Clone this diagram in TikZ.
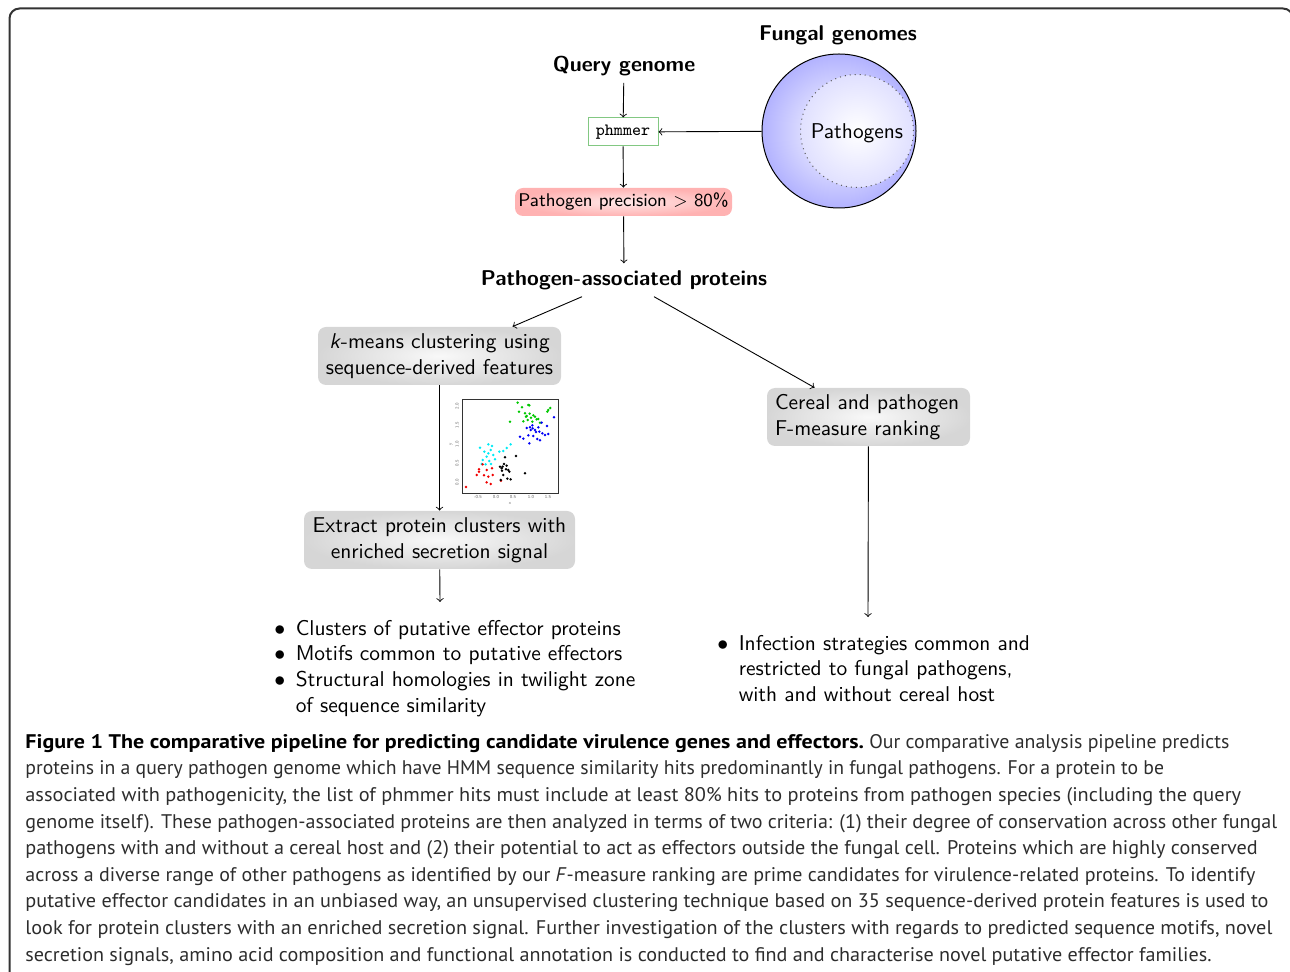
\documentclass[tikz,border=0pt]{standalone}
\usepackage{fontspec}
\newfontfamily\capfont{PT Sans}
\usetikzlibrary{calc}
\definecolor{phmgreen}{RGB}{130,200,130}
\definecolor{capgray}{RGB}{45,45,45}
\definecolor{scgreen}{RGB}{0,200,0}
\definecolor{scblue}{RGB}{0,0,245}
\definecolor{sccyan}{RGB}{0,235,245}
\definecolor{scred}{RGB}{240,0,0}
\begin{document}
\begin{tikzpicture}[x=0.5pt,y=-0.5pt,
  every node/.style={font=\sffamily\fontsize{10.7}{13}\selectfont},
  title/.style={font=\sffamily\bfseries\fontsize{10.7}{13}\selectfont},
  arr/.style={->,>=to,line width=0.45pt},
  graybox/.style={rounded corners=4pt,inner color=gray!5,outer color=gray!32,
    minimum height=29pt,inner sep=0pt,align=center},
  pinkbox/.style={rounded corners=4pt,inner color=red!9,outer color=red!30,
    minimum width=108.5pt,minimum height=14pt,inner sep=0pt,
    font=\sffamily\fontsize{9.2}{11}\selectfont},
  phmbox/.style={draw=phmgreen,line width=0.5pt,minimum width=35pt,minimum height=14pt,
    inner sep=0pt,font=\ttfamily\fontsize{8.6}{10}\selectfont},
  listnode/.style={anchor=base west,inner sep=0pt,font=\sffamily\fontsize{10.7}{12.85}\selectfont},
  capline/.style={anchor=base west,inner sep=0pt,text=capgray,font=\capfont\fontsize{9.85}{11}\selectfont},
  tick/.style={inner sep=0pt,text=black!60,font=\sffamily\fontsize{2.3}{2.5}\selectfont},
  pt/.style={circle,inner sep=0pt,minimum size=1.4pt}
]
\useasboundingbox (0,0) rectangle (1290,972);
% outer frame
\draw[line width=1pt,black!80,rounded corners=5pt] (9.5,8.5) rectangle (1293,1000);

% titles
\node[title] (fung) at (838,35) {Fungal genomes};
\node[title] (query) at (624,66) {Query genome};

% phmmer
\node[phmbox] (phm) at (623,132) {phmmer};

% fungal genomes circle
\node[circle,draw=black,line width=0.5pt,inner color=white,outer color=blue!30,
  minimum size=77pt,inner sep=0pt] (fg) at (839,131) {};
\node[circle,draw=black!65,dotted,line width=0.5pt,inner color=white,outer color=blue!12,
  minimum size=56.5pt,inner sep=0pt] (path) at (857,131) {};
\node (pathlab) at (857,133) {Pathogens};

% precision
\node[pinkbox] (prec) at (623.5,202) {Pathogen precision $>$ 80\%};

% pathogen-associated proteins
\node[title] (pap) at (624,280) {Pathogen-associated proteins};

% boxes
\node[graybox,minimum width=121.5pt] (km) at (439.5,356)
  {\textit{k}-means clustering using\\sequence-derived features};
\node[graybox,minimum width=135.5pt] (ext) at (439.5,540)
  {Extract protein clusters with\\enriched secretion signal};
\node[graybox,align=left,text width=93.5pt,inner xsep=4pt] (cer) at (868.5,417)
  {Cereal and pathogen\\F-measure ranking};

% scatter plot
\node[draw=black!80,line width=0.45pt,minimum width=48pt,minimum height=47pt,inner sep=0pt] (plot) at (510,446) {};
\begin{scope}[shift={(300,320)},scale=1/3]
  \foreach \p in {(653,248),(685,255),(688,256),(666,262),(657,275),(675,280),(689,281),(680,288),(700,286),(693,293),(710,298),(715,297),(683,300),(670,304),(697,305),(745,270),(751,264),(630,305),(720,308),(742,275),(678,290),(705,290)}
    \node[pt,fill=scgreen] at \p {};
  \foreach \p in {(762,292),(725,308),(741,318),(697,316),(690,322),(680,324),(705,330),(718,335),(727,340),(700,348),(685,346),(660,350),(670,356),(735,345),(745,342),(712,357),(720,361),(688,370),(698,325),(708,336),(692,330),(715,322)}
    \node[pt,fill=scblue] at \p {};
  \foreach \p in {(540,383),(565,373),(576,378),(553,395),(565,400),(580,405),(560,410),(548,420),(568,423),(585,418),(573,432),(557,433),(610,393),(620,384),(632,373),(598,395),(545,432),(572,390)}
    \node[pt,fill=sccyan] at \p {};
  \foreach \p in {(548,433),(537,448),(537,455),(560,450),(576,445),(530,465),(552,466),(565,470),(578,465),(560,487),(572,492),(498,501),(603,482)}
    \node[pt,fill=scred] at \p {};
  \foreach \p in {(615,412),(648,408),(600,440),(605,445),(612,432),(620,437),(606,452),(625,450),(610,465),(628,455),(602,480),(622,476),(632,478),(675,460),(618,448),(608,440)}
    \node[pt,fill=black] at \p {};
\end{scope}
% ticks
\foreach \xx/\lab in {478/-0.5,496/0.0,513/0.5,531/1.0,548/1.5}
  \node[tick] at (\xx,497) {\lab};
\foreach \yy/\lab in {406/2.0,425/1.5,444/1.0,463/0.5,482/0.0}
  \node[tick,rotate=90] at (457,\yy) {\lab};
\node[tick] (xl) at (510,503) {x};
\node[tick,rotate=90] (yl) at (451,444) {y};

% list coordinates
\coordinate (e1) at (440,602);
\coordinate (c1) at (868,617);

% bullet lists
\node[listnode] (l1) at (274,635) {\begin{tabular}[t]{@{}l@{\hspace{5.2pt}}l@{}}
$\bullet$ & Clusters of putative effector proteins\\
$\bullet$ & Motifs common to putative effectors\\
$\bullet$ & Structural homologies in twilight zone\\
 & of sequence similarity
\end{tabular}};
\node[listnode] (l2) at (717,650) {\begin{tabular}[t]{@{}l@{\hspace{5.2pt}}l@{}}
$\bullet$ & Infection strategies common and\\
 & restricted to fungal pathogens,\\
 & with and without cereal host
\end{tabular}};

% connectors
\draw[arr] (query) -- (phm);
\draw[arr] (fg) -- (phm);
\draw[arr] (phm) -- (prec);
\draw[arr] (prec) -- (pap);
\draw[arr] ([xshift=-21pt]pap.south) -- ([xshift=36.5pt]km.north);
\draw[arr] ([xshift=15pt]pap.south) -- ([xshift=-27pt]cer.north);
\draw[arr] (km) -- (ext);
\draw[arr] (ext) -- (e1);
\draw[arr] (cer) -- (c1);

% caption
\node[capline] (cp1) at (25,748.3) {\scalebox{1.007}[1]{\scalebox{1.11}[1]{\textbf{\color{black}Figure 1 The comparative pipeline for predicting candidate virulence genes and effectors.}} Our comparative analysis pipeline predicts}};
\node[capline] (cp2) at (25,774.9) {proteins in a query pathogen genome which have HMM sequence similarity hits predominantly in fungal pathogens. For a protein to be};
\node[capline] (cp3) at (25,801.5) {\scalebox{1.032}[1]{associated with pathogenicity, the list of phmmer hits must include at least 80\% hits to proteins from pathogen species (including the query}};
\node[capline] (cp4) at (25,828.1) {\scalebox{1.017}[1]{genome itself). These pathogen-associated proteins are then analyzed in terms of two criteria: (1) their degree of conservation across other fungal}};
\node[capline] (cp5) at (25,854.7) {\scalebox{1.025}[1]{pathogens with and without a cereal host and (2) their potential to act as effectors outside the fungal cell. Proteins which are highly conserved}};
\node[capline] (cp6) at (25,881.3) {\scalebox{1.014}[1]{across a diverse range of other pathogens as identified by our \textit{F}-measure ranking are prime candidates for virulence-related proteins. To identify}};
\node[capline] (cp7) at (25,907.9) {\scalebox{1.027}[1]{putative effector candidates in an unbiased way, an unsupervised clustering technique based on 35 sequence-derived protein features is used to}};
\node[capline] (cp8) at (25,934.5) {\scalebox{1.028}[1]{look for protein clusters with an enriched secretion signal. Further investigation of the clusters with regards to predicted sequence motifs, novel}};
\node[capline] (cp9) at (25,961.1) {\scalebox{1.022}[1]{secretion signals, amino acid composition and functional annotation is conducted to find and characterise novel putative effector families.}};
\end{tikzpicture}
\end{document}
